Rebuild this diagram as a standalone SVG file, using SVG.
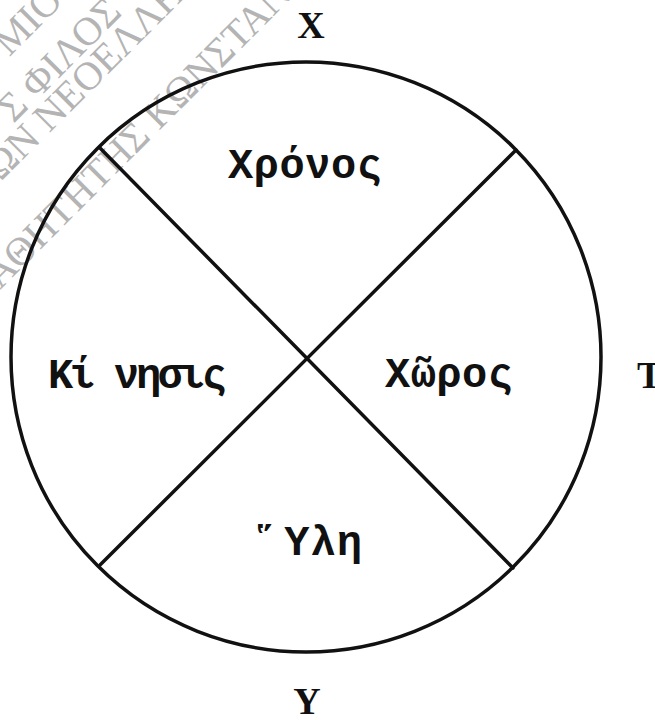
<svg xmlns="http://www.w3.org/2000/svg" width="655" height="720" viewBox="0 0 655 720">
  <style>
    .lbl { font-family: "Liberation Mono", "DejaVu Sans Mono", monospace; font-size: 42px; font-weight: bold; fill: #111; }
    .ax { font-family: "Liberation Serif", "DejaVu Serif", serif; font-size: 38px; font-weight: bold; fill: #111; }
    .wm { font-family: "Liberation Serif", "DejaVu Serif", serif; font-size: 40px; fill: #b4b4b4; }
    .ln { stroke: #111; stroke-width: 3.5; fill: none; stroke-linecap: round; }
  </style>
  <rect width="655" height="720" fill="#fff"/>
  <g id="watermark" transform="rotate(-45)">
    <text class="wm" x="-34" y="47">ΜΙΟ</text>
    <text class="wm" x="-78" y="97">Σ ΦΙΛΟΣ</text>
    <text class="wm" x="-128" y="129">ΩΝ ΝΕΟΕΛΛΗΝ</text>
    <text class="wm" x="-205" y="205">ΑΘΗΤΗΤΗΣ ΚΩΝΣΤΑΝ</text>
  </g>
  <g id="circle">
    <circle class="ln" cx="306" cy="357" r="295"/>
  </g>
  <g id="connectors">
    <line class="ln" x1="100" y1="148" x2="513" y2="568"/>
    <line class="ln" x1="516" y1="150" x2="100" y2="565"/>
  </g>
  <g id="node-chronos"><text class="lbl" x="228" y="178" textLength="154">Χρόνος</text></g>
  <g id="node-kinesis"><text class="lbl" x="48" y="388" textLength="179">Κί νησις</text></g>
  <g id="node-choros"><text class="lbl" x="385" y="387" textLength="128">Χῶρος</text></g>
  <g id="node-hyle"><text class="lbl" x="258" y="555" textLength="104">῞Υλη</text></g>
  <g id="label-X"><text class="ax" x="311" y="38" text-anchor="middle">Χ</text></g>
  <g id="label-Y"><text class="ax" x="307" y="714" text-anchor="middle">Υ</text></g>
  <g id="label-T"><text class="ax" x="637" y="388">Τ</text></g>
</svg>
